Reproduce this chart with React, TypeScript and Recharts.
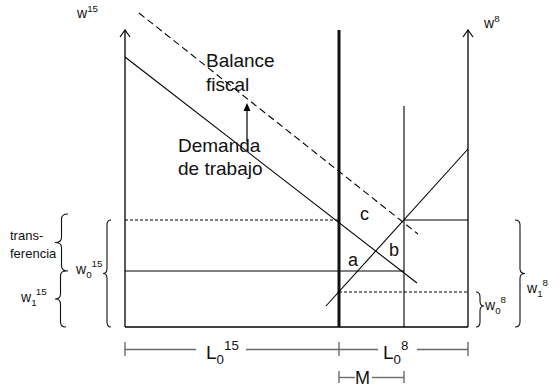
import React from 'react';
import { ComposedChart, Line, XAxis, YAxis, ReferenceDot, ReferenceArea, ReferenceLine } from 'recharts';

// Schematic units: x = labour from the left origin, y = wage from the bottom line
const laborTotal = 343;
const laborBorder = 214; // L0^15 ends here
const laborM = 279; // border + M
const wageTop = 297;

const axis15 = [{ x: 0, y: 0 }, { x: 0, y: wageTop }];
const axis8 = [{ x: laborTotal, y: 0 }, { x: laborTotal, y: wageTop }];
const baseLine = [{ x: 0, y: 0 }, { x: laborTotal, y: 0 }];
const border = [{ x: laborBorder, y: 0 }, { x: laborBorder, y: wageTop }];
const migrants = [{ x: laborM, y: 0 }, { x: laborM, y: 221 }];

const demand15 = [{ x: 0, y: 270 }, { x: 292, y: 44 }];
const fiscalBalance = [{ x: 14, y: 314 }, { x: 293, y: 93 }];
const supply8 = [{ x: 201, y: 21 }, { x: laborTotal, y: 178 }];

const w0_15 = 107;
const w1_15 = 56;
const w0_8 = 35;

const transferLine = [{ x: 0, y: w0_15 }, { x: laborBorder, y: w0_15 }];
const w0Right = [{ x: laborM, y: w0_15 }, { x: laborTotal, y: w0_15 }];
const w1Line = [{ x: 0, y: w1_15 }, { x: laborM, y: w1_15 }];
const w0_8Line = [{ x: laborBorder, y: w0_8 }, { x: laborTotal, y: w0_8 }];
const shiftArrow = [{ x: 122, y: 185 }, { x: 122, y: 218 }];

// dimension lines under the chart
const dimL = -22.5;
const dimM = -50.5;
const dimSegs = [
  [{ x: 0, y: dimL }, { x: 71, y: dimL }],
  [{ x: 121, y: dimL }, { x: 253, y: dimL }],
  [{ x: 292, y: dimL }, { x: laborTotal, y: dimL }],
  [{ x: laborBorder, y: dimM }, { x: 230, y: dimM }],
  [{ x: 247, y: dimM }, { x: laborM, y: dimM }],
];
const dimTicks = [
  [{ x: 0, y: -15 }, { x: 0, y: -29 }],
  [{ x: laborBorder, y: -15 }, { x: laborBorder, y: -29 }],
  [{ x: laborTotal, y: -15 }, { x: laborTotal, y: -29 }],
  [{ x: laborBorder, y: -44 }, { x: laborBorder, y: -56 }],
  [{ x: laborM, y: -44 }, { x: laborM, y: -56 }],
];

const FONT = '"Liberation Sans", Arial, sans-serif';

const seg = (key: string, data: any[], stroke = '#000', width = 1.1, dash = 'none') => (
  <Line
    key={key}
    data={data}
    dataKey="y"
    type="linear"
    stroke={stroke}
    strokeWidth={width}
    strokeDasharray={dash}
    dot={false}
    activeDot={false}
    isAnimationActive={false}
    legendType="none"
  />
);

const dimLine = (key: string, data: any[]) => (
  <ReferenceLine
    key={key}
    segment={data}
    stroke="#6a6a6a"
    strokeWidth={1.4}
    ifOverflow="visible"
  />
);

const label = (key: string, x: number, y: number, size: number, base: string, sub?: string, sup?: string) => (
  <ReferenceDot
    key={key}
    x={x}
    y={y}
    r={0}
    ifOverflow="visible"
    shape={(p: any) => (
      <text x={p.cx} y={p.cy} fontSize={size} fontFamily={FONT} fill="#111">
        <tspan>{base}</tspan>
        {sub && <tspan dy={size * 0.28} fontSize={size * 0.7}>{sub}</tspan>}
        {sup && <tspan dy={sub ? -size * 0.75 : -size * 0.42} fontSize={size * 0.7}>{sup}</tspan>}
      </text>
    )}
  />
);

const chevron = (key: string, x: number, y: number) => (
  <ReferenceDot
    key={key}
    x={x}
    y={y}
    r={0}
    ifOverflow="visible"
    shape={(p: any) => (
      <path d={`M${p.cx - 5},${p.cy + 7} L${p.cx},${p.cy} L${p.cx + 5},${p.cy + 7}`} fill="none" stroke="#000" strokeWidth={1.2} />
    )}
  />
);

// brace drawn inside a reference area; tip = fraction from top, side = where the tip points
const brace = (key: string, x1: number, x2: number, yTop: number, yBot: number, tip: number, side: 'left' | 'right') => (
  <ReferenceArea
    key={key}
    x1={x1}
    x2={x2}
    y1={yBot}
    y2={yTop}
    ifOverflow="visible"
    shape={(p: any) => {
      const { x, y, width, height } = p;
      const ty = y + height * tip;
      const r = 5;
      const tipX = side === 'left' ? x : x + width;
      const endX = side === 'left' ? x + width : x;
      const sx = x + width * 0.5;
      const d = `M${endX},${y} Q${sx},${y} ${sx},${y + r} L${sx},${ty - r} Q${sx},${ty} ${tipX},${ty} Q${sx},${ty} ${sx},${ty + r} L${sx},${y + height - r} Q${sx},${y + height} ${endX},${y + height}`;
      return <path d={d} fill="none" stroke="#111" strokeWidth={1.1} />;
    }}
  />
);

export default function App() {
  return (
    <div style={{ position: 'absolute', left: 0, top: 0, width: 560, height: 388, background: '#fff' }}>
      <ComposedChart width={560} height={388} margin={{ top: 0, right: 0, bottom: 0, left: 0 }}>
        <XAxis type="number" dataKey="x" domain={[-125, 435]} hide allowDataOverflow />
        <YAxis type="number" domain={[-61, 327]} hide allowDataOverflow />

        {seg('ax15', axis15, '#000', 1.3)}
        {seg('ax8', axis8, '#000', 1.3)}
        {seg('base', baseLine, '#000', 1.3)}
        {seg('border', border, '#111', 3)}
        {seg('mig', migrants, '#000', 1.1)}
        {seg('transfer', transferLine, '#000', 1, '3 2')}
        {seg('w0r', w0Right, '#000', 1)}
        {seg('w1', w1Line, '#000', 1)}
        {seg('w08', w0_8Line, '#000', 1, '3 2')}
        {seg('demand', demand15, '#000', 1.1)}
        {seg('balance', fiscalBalance, '#000', 1.1, '7 4')}
        {seg('supply', supply8, '#000', 1.1)}
        {seg('shift', shiftArrow, '#000', 1.2)}
        {dimSegs.map((d, i) => dimLine('dim' + i, d))}
        {dimTicks.map((d, i) => dimLine('tick' + i, d))}

        {chevron('arr15', 0, wageTop)}
        {chevron('arr8', laborTotal, wageTop)}
        <ReferenceDot
          x={122}
          y={224}
          r={0}
          ifOverflow="visible"
          shape={(p: any) => (
            <path d={`M${p.cx},${p.cy} L${p.cx - 3.5},${p.cy + 8} L${p.cx + 3.5},${p.cy + 8} Z`} fill="#000" />
          )}
        />

        {brace('bT', -70, -57, 113, 56, 0.5, 'left')}
        {brace('bW1', -70, -59, 56, 0, 0.5, 'left')}
        {brace('bW0', -22, -14, 107, 0, 0.5, 'left')}
        {brace('bW08', 351, 359, 35, 0, 0.4, 'right')}
        {brace('bW18', 390, 400, 107, 0, 0.5, 'right')}

        {label('w15', -48, 309, 14, 'w', undefined, '15')}
        {label('w8', 359, 299, 14, 'w', undefined, '8')}
        {label('bal1', 81, 260, 19, 'Balance')}
        {label('bal2', 81, 236, 19, 'fiscal')}
        {label('dem1', 53, 175, 19, 'Demanda')}
        {label('dem2', 53, 152, 19, 'de trabajo')}
        {label('c', 235, 107, 18, 'c')}
        {label('b', 264, 71, 18, 'b')}
        {label('a', 223, 61, 18, 'a')}
        {label('tr1', -115, 87, 13, 'trans-')}
        {label('tr2', -115, 69, 13, 'ferencia')}
        {label('w115', -104, 25, 14, 'w', '1', '15')}
        {label('w015', -49, 53, 14, 'w', '0', '15')}
        {label('w08', 360, 17, 14, 'w', '0', '8')}
        {label('w18', 402, 34, 14, 'w', '1', '8')}
        {label('L015', 81, -32, 19, 'L', '0', '15')}
        {label('L08', 258, -32, 19, 'L', '0', '8')}
        {label('M', 230, -57, 18, 'M')}
      </ComposedChart>
    </div>
  );
}
